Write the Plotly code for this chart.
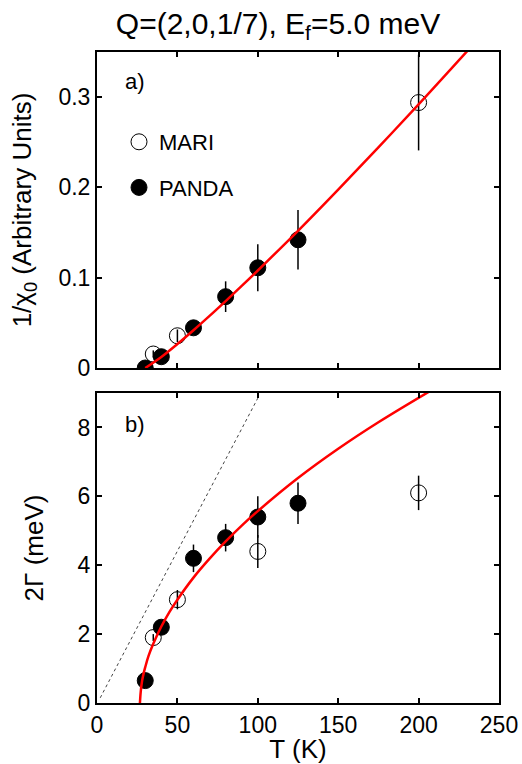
import plotly.graph_objects as go

# ---- data ----
T_panda = [30, 40, 60, 80, 100, 125]
inv_chi_panda = [0.0, 0.0125, 0.0445, 0.079, 0.111, 0.142]
inv_chi_panda_err = [0.0, 0.003, 0.004, 0.017, 0.026, 0.033]

T_mari_a = [35, 50, 200]
inv_chi_mari = [0.0155, 0.0357, 0.294]
inv_chi_mari_err = [0.004, 0.007, 0.053]

gamma_panda = [0.65, 2.2, 4.2, 4.8, 5.4, 5.8]
gamma_panda_err = [0.1, 0.15, 0.4, 0.4, 0.6, 0.6]

T_mari_b = [35, 50, 100, 200]
gamma_mari = [1.9, 3.0, 4.4, 6.1]
gamma_mari_err = [0.1, 0.28, 0.48, 0.5]

# fit curves
T_fit_a = [30, 40, 50, 60, 70, 80, 90, 100, 125, 150, 175, 200, 231]
inv_chi_fit = [0.0, 0.0122, 0.0265, 0.0418, 0.0577, 0.0741, 0.0909, 0.108,
               0.152, 0.1977, 0.2444, 0.292, 0.3525]

T_fit_b = [26.7, 27.2, 28, 29, 30, 32, 35, 40, 45, 50, 60, 70, 80, 90, 100,
           125, 150, 175, 208]
gamma_fit = [0.0, 0.33, 0.63, 0.86, 1.04, 1.36, 1.72, 2.22, 2.64, 3.0, 3.64,
             4.19, 4.69, 5.15, 5.57, 6.53, 7.38, 8.15, 9.08]

T_dot = [2, 100]
gamma_dot = [0.15, 8.85]

x_ticks = [0, 50, 100, 150, 200, 250]
ya_ticks = [0, 0.1, 0.2, 0.3]
ya_labels = ["0", "0.1", "0.2", "0.3"]
yb_ticks = [0, 2, 4, 6, 8]

FONT = "Liberation Sans, Arial, sans-serif"
FS_TICK = 23
FS_LEG = 22
FS_AX = 26
FS_TITLE = 30

W, H = 522, 764
L, R, T, B = 97, 23, 52, 61
PH = H - T - B  # plot area height


def py(px):
    """paper y fraction from a pixel row"""
    return (H - B - px) / PH


fig = go.Figure()

# Panel a
fig.add_trace(go.Scatter(
    x=T_mari_a, y=inv_chi_mari, mode="markers", name="MARI", legendgroup="m",
    marker=dict(symbol="circle-open", size=16, color="black", line=dict(width=1, color="black")),
    error_y=dict(type="data", array=inv_chi_mari_err, color="black", thickness=1.5, width=0),
    xaxis="x", yaxis="y"))
fig.add_trace(go.Scatter(
    x=T_panda, y=inv_chi_panda, mode="markers", name="PANDA", legendgroup="p",
    marker=dict(symbol="circle", size=16, color="black", line=dict(width=1, color="black")),
    error_y=dict(type="data", array=inv_chi_panda_err, color="black", thickness=1.5, width=0),
    xaxis="x", yaxis="y"))
fig.add_trace(go.Scatter(
    x=T_fit_a, y=inv_chi_fit, mode="lines", line=dict(color="#ff0000", width=2.5, shape="spline"),
    showlegend=False, xaxis="x", yaxis="y"))

# Panel b
fig.add_trace(go.Scatter(
    x=T_dot, y=gamma_dot, mode="lines", line=dict(color="#444444", width=1, dash="dot"),
    showlegend=False, xaxis="x2", yaxis="y2"))
fig.add_trace(go.Scatter(
    x=T_mari_b, y=gamma_mari, mode="markers", showlegend=False,
    marker=dict(symbol="circle-open", size=16, color="black", line=dict(width=1, color="black")),
    error_y=dict(type="data", array=gamma_mari_err, color="black", thickness=1.5, width=0),
    xaxis="x2", yaxis="y2"))
fig.add_trace(go.Scatter(
    x=T_panda, y=gamma_panda, mode="markers", showlegend=False,
    marker=dict(symbol="circle", size=16, color="black", line=dict(width=1, color="black")),
    error_y=dict(type="data", array=gamma_panda_err, color="black", thickness=1.5, width=0),
    xaxis="x2", yaxis="y2"))
fig.add_trace(go.Scatter(
    x=T_fit_b, y=gamma_fit, mode="lines", line=dict(color="#ff0000", width=2.5, shape="spline"),
    showlegend=False, xaxis="x2", yaxis="y2"))

axis_common = dict(showline=True, linecolor="black", linewidth=2, mirror="ticks",
                   ticks="inside", ticklen=5, tickwidth=1.5, tickcolor="black",
                   showgrid=False, zeroline=False, automargin=False,
                   tickfont=dict(family=FONT, size=FS_TICK, color="black"))

fig.update_layout(
    width=W, height=H,
    margin=dict(l=L, r=R, t=T, b=B),
    paper_bgcolor="white", plot_bgcolor="white",
    font=dict(family=FONT, size=FS_TICK, color="black"),
    title=dict(text="Q=(2,0,1/7), E<sub>f</sub>=5.0 meV", x=278 / W, xanchor="center",
               y=1 - 23 / H, yanchor="middle", yref="container", xref="container",
               font=dict(family=FONT, size=FS_TITLE, color="black")),
    xaxis=dict(domain=[0, 1], range=[0, 250], tickvals=x_ticks, showticklabels=False,
               anchor="y", **axis_common),
    yaxis=dict(domain=[py(368), 1], range=[0, 0.35], tickvals=ya_ticks, ticktext=ya_labels,
               anchor="x",
               title=dict(text="1/χ<sub>0</sub> (Arbitrary Units)", standoff=19,
                          font=dict(family=FONT, size=FS_AX)),
               **axis_common),
    xaxis2=dict(domain=[0, 1], range=[0, 250], tickvals=x_ticks, anchor="y2",
                title=dict(text="T (K)", standoff=0, font=dict(family=FONT, size=FS_AX)),
                **axis_common),
    yaxis2=dict(domain=[0, py(393)], range=[0, 9], tickvals=yb_ticks, anchor="x2",
                title=dict(text="2Γ (meV)", standoff=27, font=dict(family=FONT, size=FS_AX)),
                **axis_common),
    legend=dict(x=(119 - 97) / 402, y=py(121), xanchor="left", yanchor="top",
                yref="paper", bgcolor="rgba(0,0,0,0)", borderwidth=0,
                font=dict(family=FONT, size=FS_LEG), tracegroupgap=14, itemsizing="trace"),
    annotations=[
        dict(text="a)", xref="x domain", yref="y domain", x=(123 - 97) / 402, y=(368 - 82) / 316,
             xanchor="left", yanchor="middle", showarrow=False, font=dict(family=FONT, size=FS_LEG)),
        dict(text="b)", xref="x2 domain", yref="y2 domain", x=(123 - 97) / 402, y=(703 - 424) / 310,
             xanchor="left", yanchor="middle", showarrow=False, font=dict(family=FONT, size=FS_LEG)),
    ],
)

fig.write_html("out.html", config={"displayModeBar": False},
               post_script="document.body.style.margin='0px';document.body.style.padding='0px';")
